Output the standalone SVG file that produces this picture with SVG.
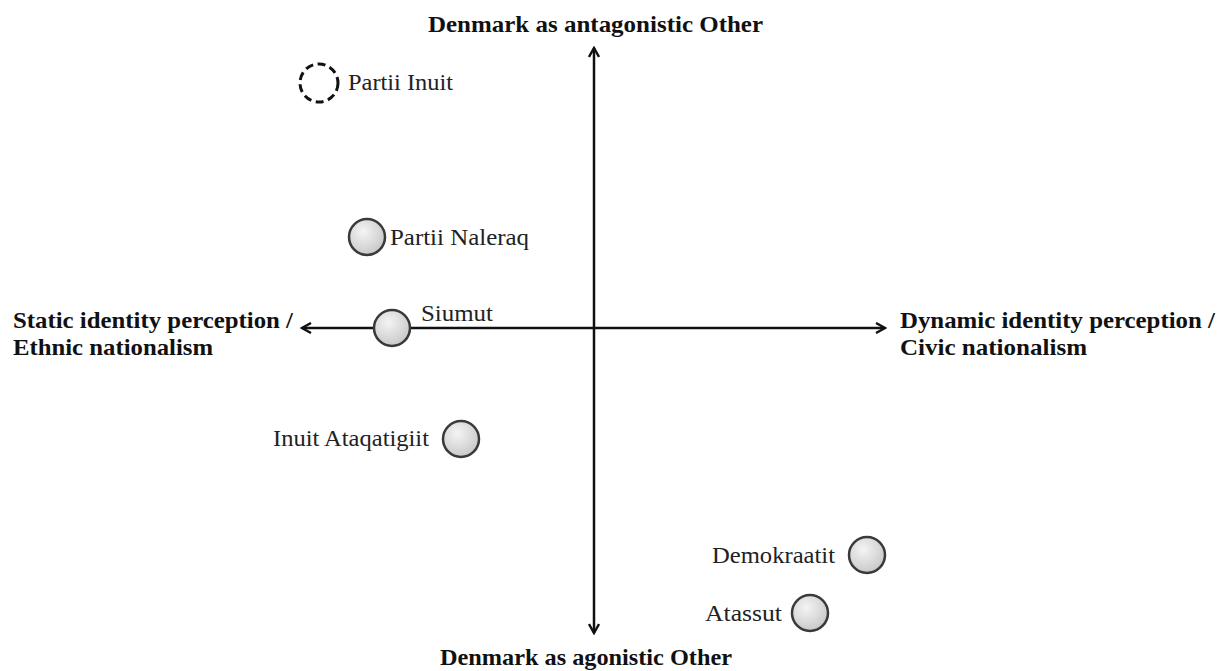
<svg xmlns="http://www.w3.org/2000/svg" width="1220" height="671" viewBox="0 0 1220 671">
<defs>
<radialGradient id="g" cx="0.4" cy="0.35" r="0.7">
<stop offset="0" stop-color="#f4f4f4"/>
<stop offset="1" stop-color="#c6c6c6"/>
</radialGradient>
<marker id="ah" viewBox="0 0 12 12" refX="10" refY="6" markerWidth="12" markerHeight="12" markerUnits="userSpaceOnUse" orient="auto">
<path d="M1,1 L10,6 L1,11" fill="none" stroke="#111" stroke-width="2.4"/>
</marker>
<style>
.lab{font-family:"Liberation Serif",serif;font-size:24px;fill:#222}
.ax{font-family:"Liberation Serif",serif;font-size:24px;font-weight:bold;fill:#111}
.node{fill:url(#g);stroke:#3a3a3a;stroke-width:2.5}
.axis{stroke:#111;stroke-width:2.5;fill:none;marker-end:url(#ah)}
</style>
</defs>
<rect width="1220" height="671" fill="#fff"/>
<g id="connectors">
<line class="axis" x1="594" y1="328" x2="594" y2="48"/>
<line class="axis" x1="594" y1="328" x2="594" y2="633"/>
<line class="axis" x1="594" y1="328" x2="302" y2="328"/>
<line class="axis" x1="594" y1="328" x2="885" y2="328"/>
</g>
<g id="axis-labels">
<text class="ax" x="428" y="32" textLength="335" lengthAdjust="spacingAndGlyphs">Denmark as antagonistic Other</text>
<text class="ax" x="440" y="665" textLength="292" lengthAdjust="spacingAndGlyphs">Denmark as agonistic Other</text>
<text class="ax" x="13" y="328" textLength="280" lengthAdjust="spacingAndGlyphs">Static identity perception /</text>
<text class="ax" x="13" y="355" textLength="200" lengthAdjust="spacingAndGlyphs">Ethnic nationalism</text>
<text class="ax" x="900" y="328" textLength="315" lengthAdjust="spacingAndGlyphs">Dynamic identity perception /</text>
<text class="ax" x="900" y="355" textLength="187" lengthAdjust="spacingAndGlyphs">Civic nationalism</text>
</g>
<g id="partii-inuit">
<circle cx="319" cy="83" r="19" fill="#fff" stroke="#111" stroke-width="3" stroke-dasharray="8,4.5"/>
<text class="lab" x="348" y="90" textLength="105" lengthAdjust="spacingAndGlyphs">Partii Inuit</text>
</g>
<g id="partii-naleraq">
<circle class="node" cx="367" cy="237" r="18"/>
<text class="lab" x="390" y="245" textLength="139" lengthAdjust="spacingAndGlyphs">Partii Naleraq</text>
</g>
<g id="siumut">
<circle class="node" cx="392" cy="328" r="18"/>
<text class="lab" x="421" y="321" textLength="72" lengthAdjust="spacingAndGlyphs">Siumut</text>
</g>
<g id="inuit-ataqatigiit">
<circle class="node" cx="461" cy="439" r="18"/>
<text class="lab" x="273" y="446" textLength="156" lengthAdjust="spacingAndGlyphs">Inuit Ataqatigiit</text>
</g>
<g id="demokraatit">
<circle class="node" cx="867" cy="555" r="18"/>
<text class="lab" x="712" y="563" textLength="123" lengthAdjust="spacingAndGlyphs">Demokraatit</text>
</g>
<g id="atassut">
<circle class="node" cx="810" cy="613" r="18"/>
<text class="lab" x="705" y="621" textLength="77" lengthAdjust="spacingAndGlyphs">Atassut</text>
</g>
</svg>
